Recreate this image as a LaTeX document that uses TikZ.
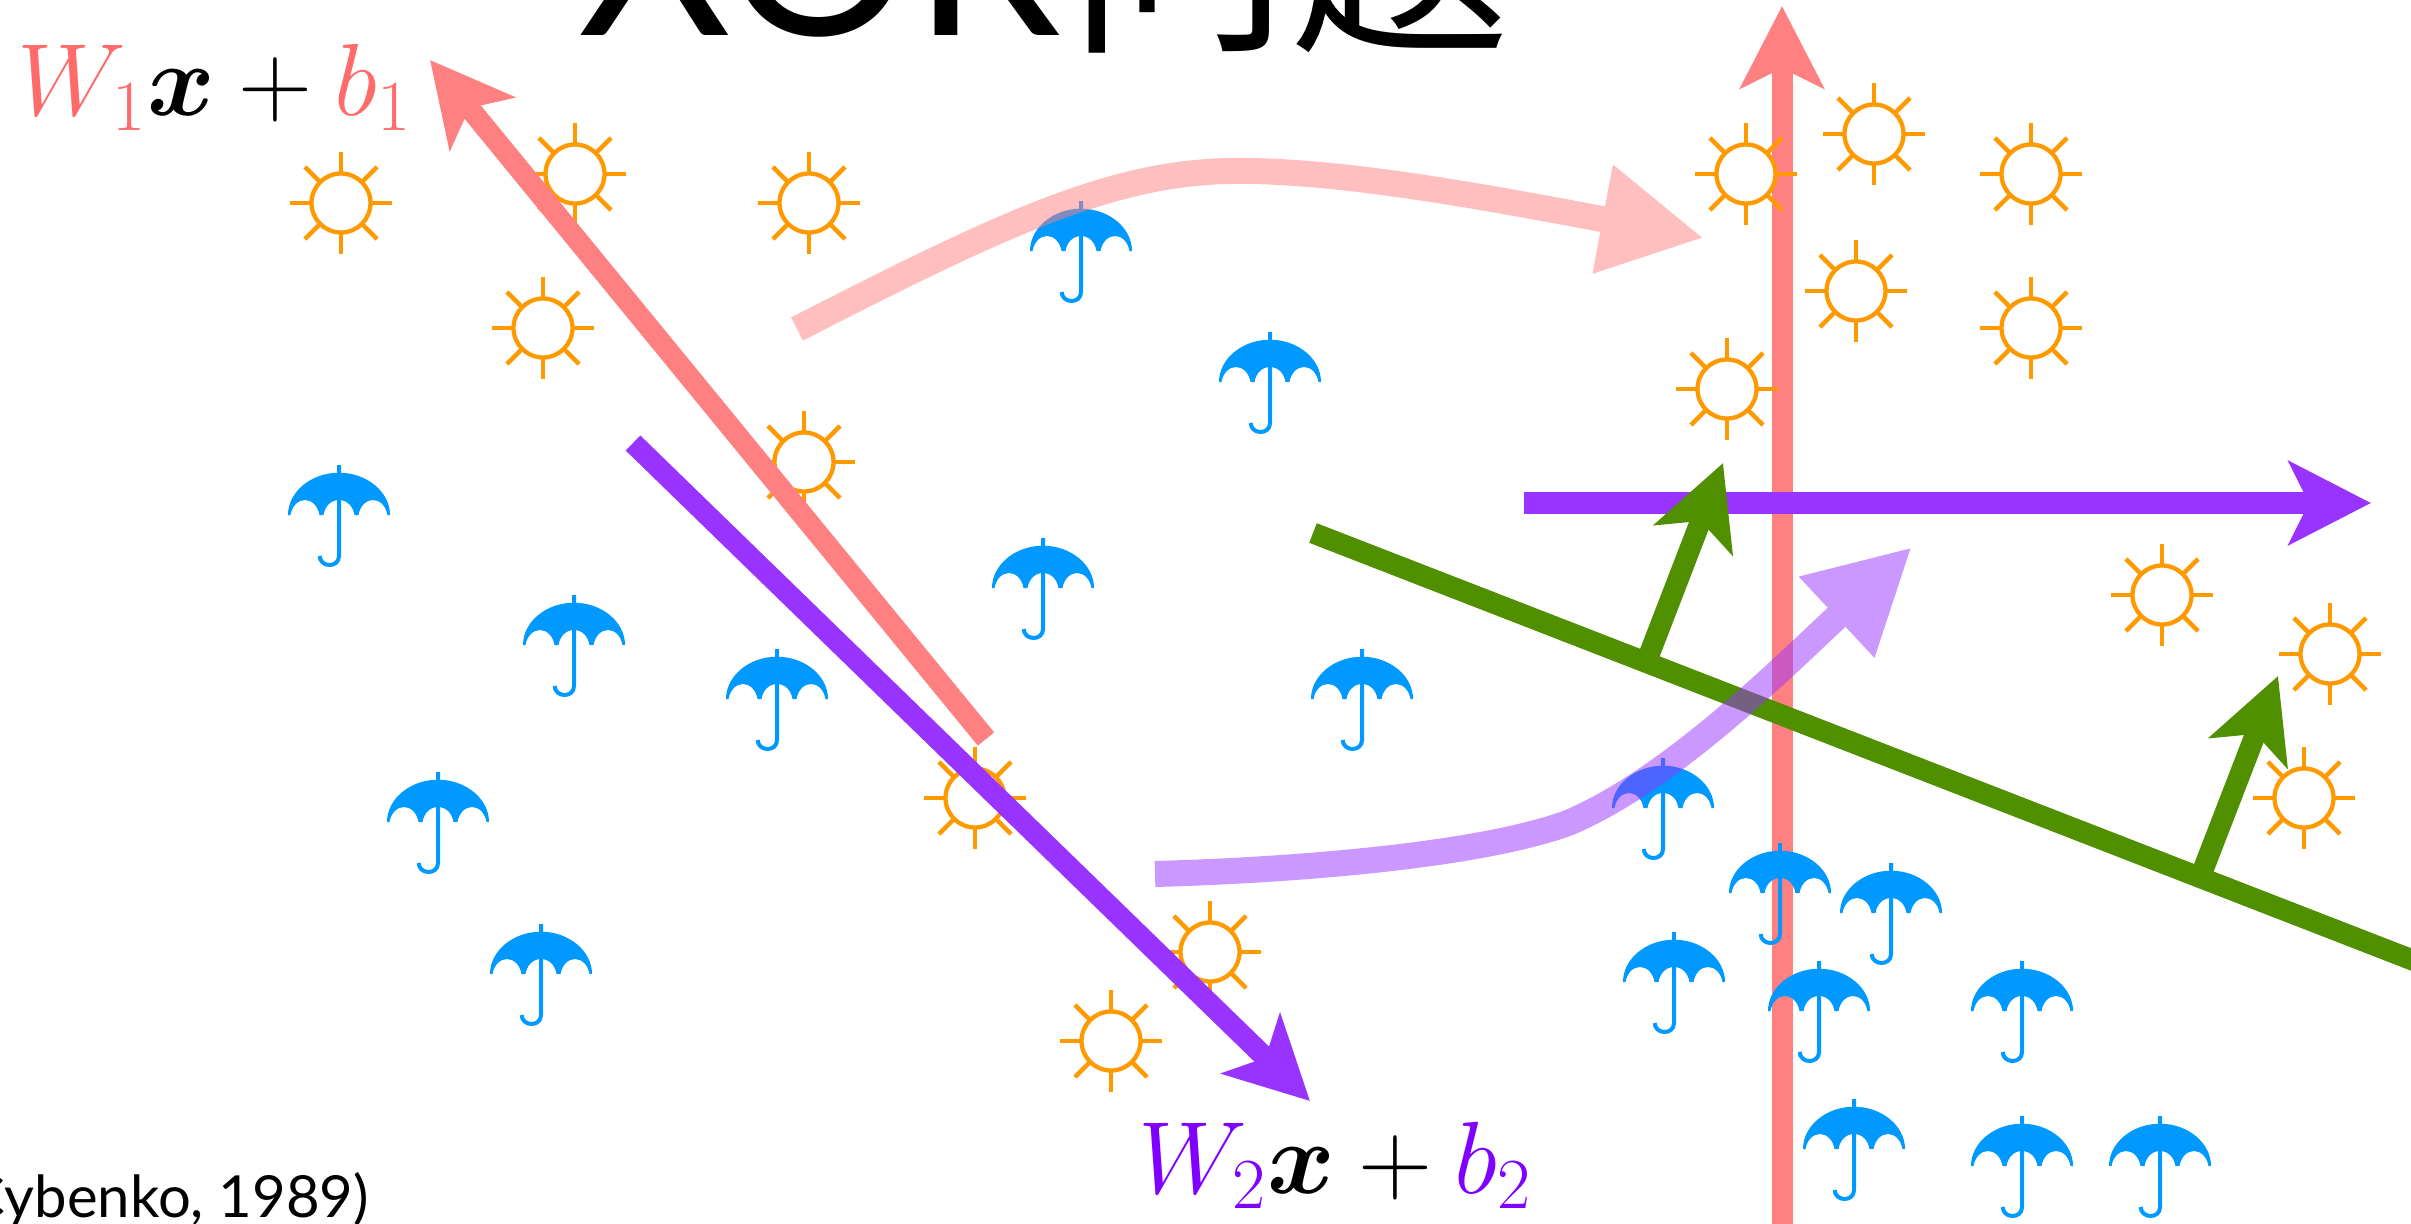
\documentclass[tikz,border=0pt]{standalone}
\usepackage{fix-cm}
\usepackage{amsmath,amssymb}
\usepackage{bm}
\usepackage{fontspec}
\usetikzlibrary{arrows.meta}
\newfontfamily\labelfont{Lato}
\newfontfamily\cjk{Noto Sans CJK SC}
\definecolor{linered}{HTML}{FF8080}
\definecolor{linepurple}{HTML}{9933FF}
\definecolor{linegreen}{HTML}{508F00}
\definecolor{sunorange}{HTML}{FF9900}
\definecolor{rainblue}{HTML}{0099FF}
\definecolor{textred}{HTML}{FF6B6B}
\definecolor{textpurple}{HTML}{8000FF}

\begin{document}
\begin{tikzpicture}[
    x=0.01cm, y=-0.01cm,
    every node/.style={inner sep=0pt, outer sep=0pt},
    mainarrow/.style={line width=0.21cm, -{Stealth[length=0.82cm,width=0.83cm,inset=0.2cm]}},
    softarrow/.style={line width=0.26cm, -{Stealth[length=1.03cm,width=1.03cm,inset=0cm]}},
    mathlabel/.style={anchor=base west, font=\fontsize{29.2}{32}\selectfont},
    sunline/.style={draw=sunorange, line width=0.043cm},
    sun/.pic={
      \draw[sunline, fill=white] (0,0) circle (29.5);
      \foreach \a in {0,45,...,315}{
        \draw[sunline] (\a:30.5) -- (\a:51);
      }
    },
    umbrella/.pic={
      \fill[rainblue] (-51,50) .. controls (-51,27) and (-28,7.7) .. (0,7.7)
        .. controls (28,7.7) and (51,27) .. (51,50) -- (48.5,50)
        .. controls (47,41) and (41,35) .. (34,35)
        .. controls (27,35) and (21,41) .. (19.5,50) -- (15.5,50)
        .. controls (14,41) and (8,35) .. (0,35)
        .. controls (-8,35) and (-14,41) .. (-15.5,50) -- (-19.5,50)
        .. controls (-21,41) and (-27,35) .. (-34,35)
        .. controls (-41,35) and (-47,41) .. (-48.5,50) -- cycle;
      \draw[rainblue, line width=0.04cm] (0,0) -- (0,91)
        .. controls (0,97) and (-4.5,100) .. (-9.7,100)
        .. controls (-15,100) and (-19.3,96) .. (-19.3,91);
    },
]

\useasboundingbox (0,0) rectangle (2411,1224);
\fill[white] (0,0) rectangle (2411,1224);
\clip (0,0) rectangle (2411,1224);

% --- Title, cut off by the upper edge ---
\node[anchor=base west, font=\labelfont\fontsize{67}{70}\selectfont] (titlexor) at (578,35) {XOR};
\node[anchor=base west, font=\cjk\fontsize{63}{66}\selectfont] (titlecjk) at (1068,35) {问题};

% --- Right panel: lines below the points ---
\draw[mainarrow, linered] (1782,1240) -- (1782,6);
\draw[mainarrow, linepurple] (1524,503) -- (2371,503);
\draw[line width=0.21cm, linegreen] (1313,533) -- (2500,994);
\draw[mainarrow, linegreen] (1649,655) -- (1723,463);
\draw[mainarrow, linegreen] (2203,870) -- (2278,676);

% --- Points of both classes ---
\foreach \x/\y in {341/203, 575/174, 809/203, 543/328, 804/462, 975/798,
                   1210/952, 1111/1041, 1746/174, 1874/134, 2031/174,
                   1856/291, 2031/328, 1727/389, 2162/595, 2330/654, 2304/798}{
  \pic at (\x,\y) {sun};
}
\foreach \x/\y in {339/465, 574/595, 777/649, 438/772, 541/924, 1043/538,
                   1081/201, 1270/332, 1362/649, 1663/758, 1780/843, 1891/863,
                   1674/932, 1819/961, 2022/961, 1854/1099, 2022/1116, 2160/1116}{
  \pic at (\x,\y) {umbrella};
}

% --- Left panel: the two separating lines ---
\draw[mainarrow, linered] (986,739) -- (430,60);
\draw[mainarrow, linepurple] (633,443) -- (1310,1101);

% --- Transformation arrows, see-through ---
\begin{scope}[transparency group, opacity=0.5]
  \draw[softarrow, linered] (797,329) .. controls (1000,225) and (1110,173) .. (1230,171)
    .. controls (1340,169) and (1500,200) .. (1704,238);
\end{scope}
\begin{scope}[transparency group, opacity=0.5]
  \draw[softarrow, linepurple] (1155,874) .. controls (1300,870) and (1480,855) .. (1568,823)
    .. controls (1670,780) and (1780,670) .. (1912,547);
\end{scope}

% --- Labels ---
\node[mathlabel] (labelone) at (18,115)
     {$\textcolor{textred}{W_1}\bm{x}+\textcolor{textred}{b_1}$};
\node[mathlabel] (labeltwo) at (1138,1193)
     {$\textcolor{textpurple}{W_2}\bm{x}+\textcolor{textpurple}{b_2}$};
\node[anchor=base east, font=\labelfont\fontsize{16.5}{20}\selectfont] (citation) at (369,1217)
     {Cybenko, 1989)};

\end{tikzpicture}
\end{document}
